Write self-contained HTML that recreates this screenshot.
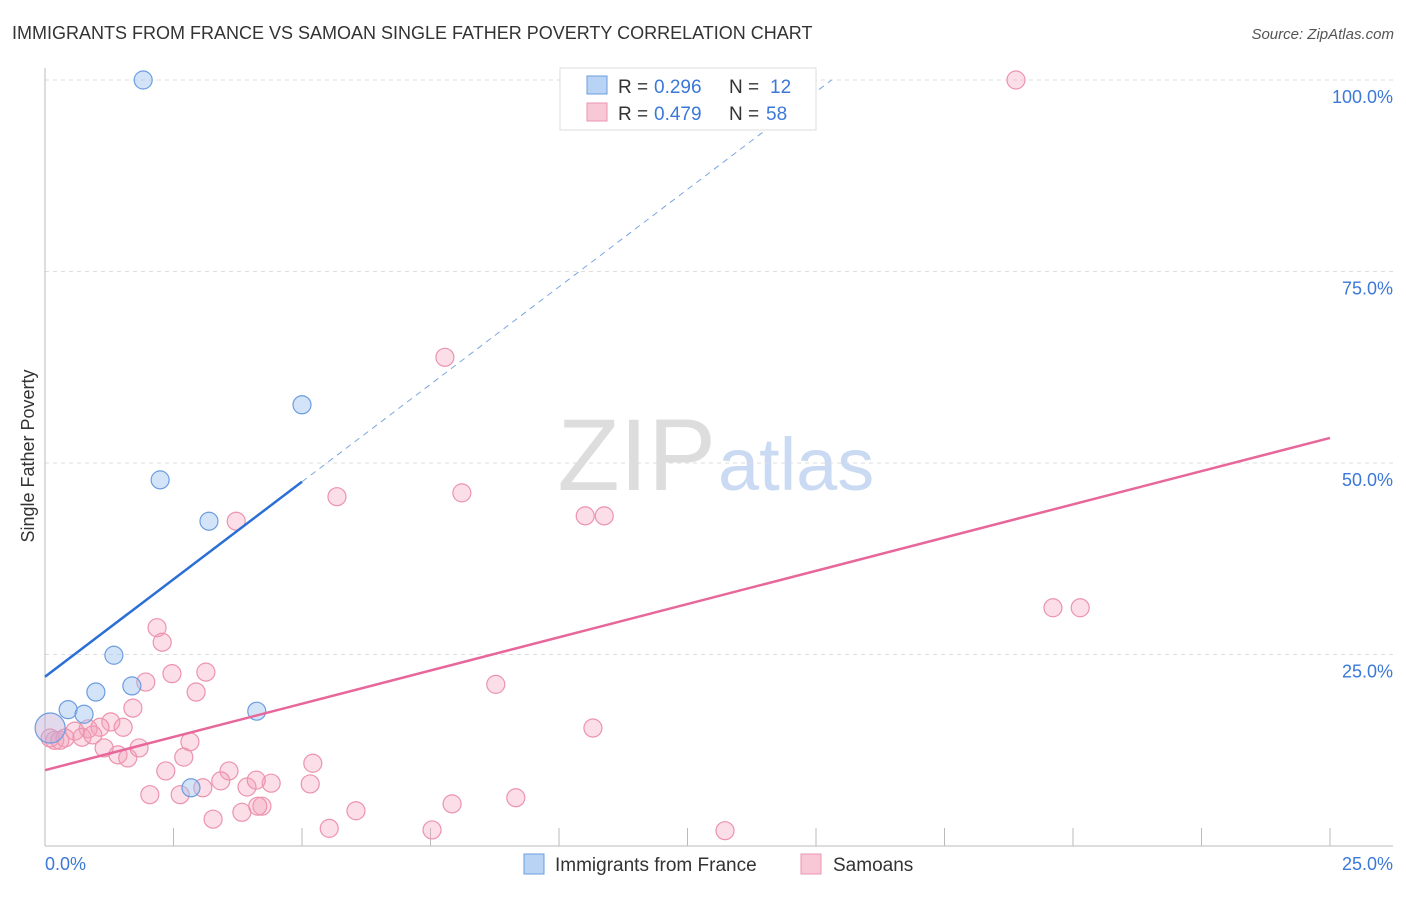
<!DOCTYPE html>
<html><head><meta charset="utf-8"><style>
body{margin:0;background:#fff;font-family:"Liberation Sans",sans-serif;}
svg text{font-family:"Liberation Sans",sans-serif;}
</style></head><body>
<svg id="c" width="1406" height="892">
<text x="12" y="39" font-size="18" fill="#333">IMMIGRANTS FROM FRANCE VS SAMOAN SINGLE FATHER POVERTY CORRELATION CHART</text>
<text x="1394" y="39" font-size="15" fill="#555" font-style="italic" text-anchor="end">Source: ZipAtlas.com</text>
<text x="716" y="490" font-size="102" fill="#ddd" text-anchor="end" font-family="Liberation Serif">ZIP</text>
<text x="718" y="490" font-size="74" fill="#c9daf2">atlas</text>
<text transform="translate(34,456) rotate(-90)" font-size="18" fill="#333" text-anchor="middle">Single Father Poverty</text>
<g id="grid"></g><g id="marks"></g>
<g>
<rect x="560" y="68" width="256" height="62" fill="#fff" stroke="#ddd"/>
<rect x="587" y="76" width="20" height="18" fill="#b9d3f5" stroke="#6b9de0"/>
<rect x="587" y="103" width="20" height="18" fill="#f9c8d6" stroke="#ec93ae"/>
<text x="618" y="93" font-size="19" fill="#333">R =</text><text x="654" y="93" font-size="19" fill="#3b78d8">0.296</text>
<text x="729" y="93" font-size="19" fill="#333">N =</text><text x="770" y="93" font-size="19" fill="#3b78d8">12</text>
<text x="618" y="120" font-size="19" fill="#333">R =</text><text x="654" y="120" font-size="19" fill="#3b78d8">0.479</text>
<text x="729" y="120" font-size="19" fill="#333">N =</text><text x="766" y="120" font-size="19" fill="#3b78d8">58</text>
</g>
<g>
<rect x="524" y="854" width="20" height="20" fill="#b9d3f5" stroke="#6b9de0"/>
<text x="555" y="871" font-size="19" fill="#333">Immigrants from France</text>
<rect x="801" y="854" width="20" height="20" fill="#f9c8d6" stroke="#ec93ae"/>
<text x="833" y="871" font-size="19" fill="#333">Samoans</text>
</g>
</svg>
<script>
const blueX=[1.91,2.24,3.19,5.0,1.34,1.69,0.99,0.45,0.76,4.12,2.84,0.1];
const blueY=[100,47.8,42.4,57.6,24.9,20.9,20.1,17.8,17.2,17.6,7.6,15.4];
const pinkX=[18.89,7.78,5.68,8.11,3.72,10.51,10.88,19.61,20.14,2.18,2.28,2.47,3.13,1.96,2.94,8.77,1.71,10.66,1.28,1.52,0.84,1.07,0.58,0.19,0.39,0.72,0.93,1.15,1.42,1.61,1.83,2.82,2.70,2.35,3.58,3.42,3.93,4.40,4.11,5.21,5.16,2.04,2.63,3.07,3.27,3.83,4.22,4.14,5.53,6.05,7.92,9.16,7.53,13.23,0.1,0.29];
const pinkY=[100,63.8,45.6,46.1,42.4,43.1,43.1,31.1,31.1,28.5,26.6,22.5,22.7,21.4,20.1,21.1,18.0,15.4,16.2,15.5,15.3,15.5,15.0,13.8,14.1,14.2,14.5,12.8,11.9,11.5,12.8,13.6,11.6,9.8,9.8,8.5,7.7,8.2,8.6,10.8,8.1,6.7,6.7,7.6,3.5,4.4,5.2,5.2,2.3,4.6,5.5,6.3,2.1,2.0,14.1,13.8];
const yTicks=[25,50,75,100];
const yTickLabels=["25.0%","50.0%","75.0%","100.0%"];
const xTickLabels=["0.0%","25.0%"];
const blueTrend=[22.1,5.09];
const pinkTrend=[9.9,1.735];
const X=v=>45+v*51.4, Y=v=>846-v*7.66;
const NS="http://www.w3.org/2000/svg";
function mk(t,a,p){const e=document.createElementNS(NS,t);for(const k in a)e.setAttribute(k,a[k]);p.appendChild(e);return e;}
const g=document.getElementById('grid'),m=document.getElementById('marks');
yTicks.forEach((t,i)=>{
 const l=mk('line',{x1:45,x2:1393,y1:Y(t),y2:Y(t),stroke:'#ddd','stroke-dasharray':'4,4'},g);
 
 
 const tx=mk('text',{x:1393,y:Y(t)+23,'font-size':18,fill:'#3b78d8','text-anchor':'end'},g);tx.textContent=yTickLabels[i];
 
 
});
mk('line',{x1:45,x2:45,y1:68,y2:846,stroke:'#bbb'},g);
mk('line',{x1:45,x2:1393,y1:846,y2:846,stroke:'#bbb'},g);
for(let i=1;i<=10;i++){const x=X(i*2.5);mk('line',{x1:x,x2:x,y1:828,y2:846,stroke:'#bbb'},g);}
const xl=mk('text',{x:45,y:870,'font-size':18,fill:'#3b78d8'},g);xl.textContent=xTickLabels[0];


const xr=mk('text',{x:1393,y:870,'font-size':18,fill:'#3b78d8','text-anchor':'end'},g);xr.textContent=xTickLabels[1];


pinkX.forEach((x,i)=>{const c=mk('circle',{cx:X(x),cy:Y(pinkY[i]),r:9,fill:'rgba(244,160,186,0.35)',stroke:'#ec93ae','stroke-width':1.2},m);
 
 });
blueX.forEach((x,i)=>{const c=mk('circle',{cx:X(x),cy:Y(blueY[i]),r:i==11?15:9,fill:i==11?'rgba(190,170,215,0.45)':'rgba(160,195,240,0.45)',stroke:'#6b9de0','stroke-width':1.2},m);
 
 });
const bl=mk('line',{x1:X(0),y1:Y(blueTrend[0]),x2:X(5),y2:Y(blueTrend[0]+5*blueTrend[1]),stroke:'#2a6fd6','stroke-width':2.5},m);


const xe=(100-blueTrend[0])/blueTrend[1];
const bd=mk('line',{x1:X(5),y1:Y(blueTrend[0]+5*blueTrend[1]),x2:X(xe),y2:Y(100),stroke:'#7aa6e0','stroke-width':1,'stroke-dasharray':'6,5'},m);


const pl=mk('line',{x1:X(0),y1:Y(pinkTrend[0]),x2:X(25),y2:Y(pinkTrend[0]+25*pinkTrend[1]),stroke:'#e8679a','stroke-width':2.5},m);


</script>
</body></html>
